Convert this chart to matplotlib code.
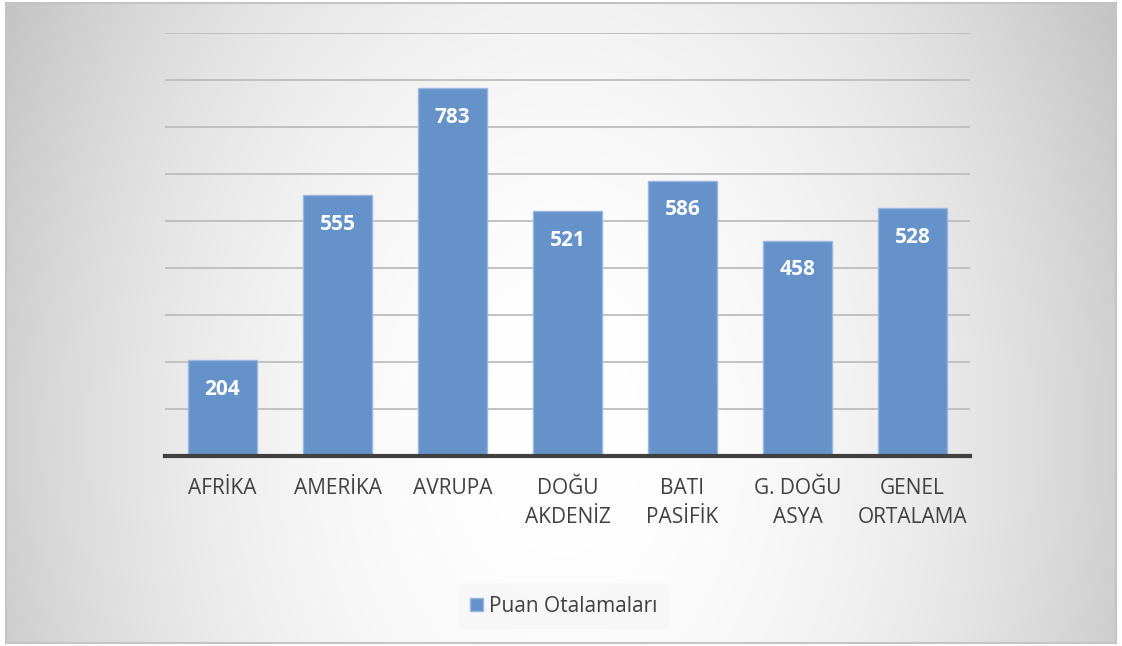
import matplotlib.pyplot as plt
import numpy as np

# Data
categories = ['AFRİKA', 'AMERİKA', 'AVRUPA', 'DOĞU\nAKDENİZ', 'BATI\nPASİFİK', 'G. DOĞU\nASYA', 'GENEL\nORTALAMA']
values = [204, 555, 783, 521, 586, 458, 528]
series_name = 'Puan Otalamaları'

plt.rcParams['font.family'] = ['Open Sans', 'DejaVu Sans']

W, H = 1122, 646
fig = plt.figure(figsize=(W / 100, H / 100), dpi=100)
fig.patch.set_facecolor('white')

# Background panel with a radial gradient
bg = fig.add_axes([6 / W, 3 / H, (1116 - 6) / W, (643 - 3) / H])
yy, xx = np.mgrid[0:1:300j, 0:1:500j]
r2 = ((xx - 0.5) / 0.5) ** 2 + ((yy - 0.68) / 1.25) ** 2
shade = np.clip(1.0 - 0.18 * r2, 0.76, 1.0)
bg.imshow(np.dstack([shade] * 3), extent=[0, 1, 0, 1], origin='upper', aspect='auto')
bg.set_xlim(0, 1)
bg.set_ylim(0, 1)
bg.set_xticks([])
bg.set_yticks([])
for s in bg.spines.values():
    s.set_color('#c4c4c4')
    s.set_linewidth(1.5)

# Main chart
ax = fig.add_axes([165 / W, (H - 456) / H, (970 - 165) / W, (456 - 33) / H])
ax.patch.set_alpha(0)
x = np.arange(len(categories))
bars = ax.bar(x, values, width=0.6, color='#6592c8', edgecolor='#9ab7dd', linewidth=1.0, zorder=3)
ax.set_xlim(-0.5, len(categories) - 0.5)
ax.set_ylim(0, 900)
ax.set_yticks(np.arange(0, 901, 100))
ax.yaxis.grid(True, color='#bdbdbd', linewidth=1.3, zorder=0)
ax.tick_params(axis='y', left=False, labelleft=False)
ax.tick_params(axis='x', length=0, pad=16)
ax.set_xticks(x)
ax.set_xticklabels(categories, fontsize=15, color='#404040', linespacing=1.5, va='top')
for side in ['top', 'right', 'left']:
    ax.spines[side].set_visible(False)
ax.spines['bottom'].set_color('#404040')
ax.spines['bottom'].set_linewidth(3)
ax.spines['bottom'].set_zorder(4)

for b, v in zip(bars, values):
    ax.annotate(str(v), (b.get_x() + b.get_width() / 2, v), xytext=(0, -21),
                textcoords='offset points', ha='center', va='center',
                color='white', fontsize=15, fontweight='bold', zorder=5)

leg = fig.legend([bars[0]], [series_name], loc='center', bbox_to_anchor=(564 / W, 1 - 606 / H),
                 frameon=True, fontsize=15, handlelength=0.6, handleheight=0.6,
                 handletextpad=0.3, borderpad=0.6)
leg.get_frame().set_facecolor('#f6f6f6')
leg.get_frame().set_edgecolor('none')
leg.get_frame().set_alpha(0.7)
for t in leg.get_texts():
    t.set_color('#404040')

fig.savefig('out.png', dpi=100)
